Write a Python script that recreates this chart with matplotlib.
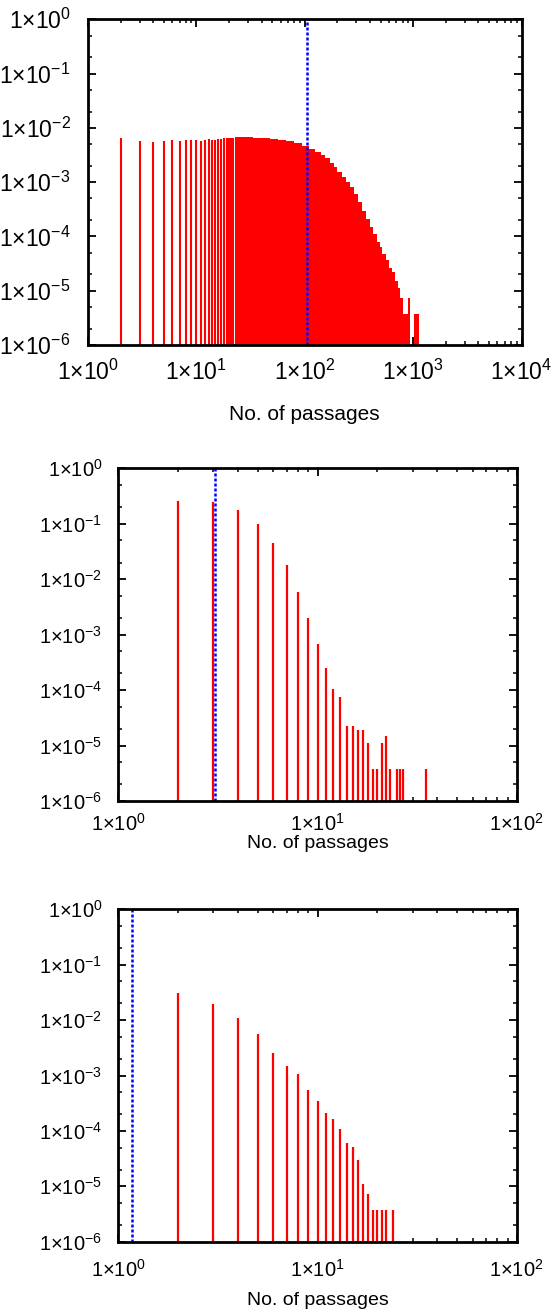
import numpy as np
import matplotlib
matplotlib.use("Agg")
import matplotlib.pyplot as plt
from matplotlib.ticker import LogLocator, FuncFormatter, NullFormatter

plt.rcParams['font.family'] = ['Liberation Sans', 'DejaVu Sans']
plt.rcParams['mathtext.fontset'] = 'custom'
plt.rcParams['mathtext.rm'] = 'Liberation Sans'
plt.rcParams['mathtext.it'] = 'Liberation Sans:italic'
plt.rcParams['mathtext.bf'] = 'Liberation Sans:bold'

# ---------------- data ----------------
# Panel 1 (top): individually resolved impulses
p1_n = [1, 2, 3, 4, 5, 6, 7, 8, 9, 10, 11, 12, 13, 14, 15, 16, 17, 18, 19, 20, 21, 22]
p1_p = [1.05e-2, 6.4e-3, 5.66e-3, 5.57e-3, 5.66e-3, 6.07e-3, 5.82e-3, 5.9e-3, 5.9e-3, 5.9e-3,
        5.74e-3, 6.07e-3, 6.2e-3, 6.07e-3, 6.0e-3, 6.2e-3, 6.3e-3, 6.5e-3, 6.4e-3,
        6.5e-3, 6.5e-3, 6.6e-3]
# Panel 1 dense region (impulses merge): envelope read per x-range
p1_edges = [22.5, 27, 33, 40, 48, 57, 67, 80, 95, 110, 125, 140, 155, 170, 185, 200,
            220, 240, 260, 285, 310, 340, 370, 400, 430, 460, 490, 520, 560, 600, 640,
            680, 720, 760, 800, 850, 900, 945, 1012, 1130]
p1_env = [6.7e-3, 6.7e-3, 6.6e-3, 6.4e-3, 6.2e-3, 6.0e-3, 5.7e-3, 5.2e-3, 4.6e-3, 4.0e-3,
          3.6e-3, 3.1e-3, 2.8e-3, 2.3e-3, 1.9e-3, 1.55e-3, 1.25e-3, 1.02e-3, 8.0e-4, 6.0e-4,
          4.3e-4, 3.0e-4, 2.1e-4, 1.5e-4, 1.1e-4, 8.0e-5, 6.3e-5, 4.8e-5, 3.7e-5, 2.6e-5,
          2.2e-5, 1.5e-5, 1.1e-5, 7.4e-6, 3.7e-6, 3.7e-6, 7.4e-6, 0.0, 3.7e-6]
p1_mark = 104.0

# Panel 2 (middle)
p2_n = [1, 2, 3, 4, 5, 6, 7, 8, 9, 10, 11, 12, 13, 14, 15, 16, 17, 18, 19, 20, 21, 22, 23,
        25, 26, 27, 35]
p2_p = [0.22, 0.26, 0.247, 0.175, 0.098, 0.045, 0.0178, 5.96e-3, 1.97e-3, 6.8e-4, 2.5e-4,
        1.03e-4, 7.5e-5, 2.25e-5, 2.25e-5, 1.9e-5, 1.9e-5, 1.13e-5, 3.7e-6, 3.7e-6,
        1.13e-5, 1.5e-5, 3.7e-6, 3.7e-6, 3.7e-6, 3.7e-6, 3.7e-6]
p2_mark = 3.05

# Panel 3 (bottom)
p3_n = [1, 2, 3, 4, 5, 6, 7, 8, 9, 10, 11, 12, 13, 14, 15, 16, 17, 18, 19, 20, 21, 22, 24]
p3_p = [0.95, 0.0305, 0.0193, 0.011, 5.5e-3, 2.6e-3, 1.47e-3, 1.06e-3, 5.4e-4, 3.4e-4,
        2.1e-4, 1.66e-4, 1.1e-4, 6.0e-5, 5.2e-5, 2.94e-5, 1.1e-5, 7.3e-6, 3.7e-6, 3.7e-6,
        3.7e-6, 3.7e-6, 3.7e-6]
p3_mark = 1.176

xlabel_text = "No. of passages"

# ---------------- styling helpers ----------------
RED = (1.0, 0.0, 0.0)
BLUE = (0.0, 0.0, 1.0)
DASH = (0, (1.2, 0.8))

def fmt(v, pos):
    k = int(round(np.log10(v)))
    return "1\u00d710$^{%d}$" % k


def style(ax, xmax, fs, ypad, xpad):
    ax.set_xscale('log')
    ax.set_yscale('log')
    ax.set_xlim(1, xmax)
    ax.set_ylim(1e-6, 1)
    ax.xaxis.set_major_locator(LogLocator(base=10, numticks=20))
    ax.xaxis.set_minor_locator(LogLocator(base=10, subs=np.arange(2, 10), numticks=20))
    ax.yaxis.set_major_locator(LogLocator(base=10, numticks=20))
    ax.yaxis.set_minor_locator(LogLocator(base=10, subs=[2, 5], numticks=20))
    ax.xaxis.set_major_formatter(FuncFormatter(fmt))
    ax.yaxis.set_major_formatter(FuncFormatter(fmt))
    ax.xaxis.set_minor_formatter(NullFormatter())
    ax.yaxis.set_minor_formatter(NullFormatter())
    ax.tick_params(which='both', direction='in', top=True, right=True, labelsize=fs)
    ax.tick_params(which='major', length=5.5, width=1.3)
    ax.tick_params(which='minor', length=2.8, width=1.1)
    ax.tick_params(axis='y', which='major', pad=ypad)
    ax.tick_params(axis='x', which='major', pad=xpad)
    for s in ax.spines.values():
        s.set_linewidth(2.0)
        s.set_zorder(5)


fig = plt.figure(figsize=(5.54, 13.15), dpi=100)

W, H = 554.0, 1315.0

def add_axes(l, r, t, b):
    return fig.add_axes([l / W, 1 - b / H, (r - l) / W, (b - t) / H])

# top panel
ax1 = add_axes(88, 521.5, 19.3, 345)
style(ax1, 1e4, 16.5, 12.5, 10.5)
ax1.vlines(p1_n, 1e-7, p1_p, colors=[RED], linewidth=1.5, capstyle='butt', zorder=2)
ax1.bar(p1_edges[:-1], p1_env, width=np.diff(p1_edges), align='edge',
        color=RED, linewidth=0, zorder=2)
ax1.axvline(p1_mark, color=BLUE, linewidth=1.8, linestyle=DASH, zorder=3)
ax1.set_xlabel(xlabel_text, fontsize=15)
ax1.xaxis.set_label_coords(0.5, -0.185)

# middle panel
ax2 = add_axes(118.3, 516.7, 468.3, 801)
style(ax2, 1e2, 14.5, 11.5, 8.5)
ax2.vlines(p2_n, 1e-7, p2_p, colors=[RED], linewidth=1.6, capstyle='butt', zorder=2)
ax2.axvline(p2_mark, color=BLUE, linewidth=1.8, linestyle=DASH, zorder=3)
ax2.set_xlabel(xlabel_text, fontsize=14)
ax2.xaxis.set_label_coords(0.5, -0.102)

# bottom panel
ax3 = add_axes(118.3, 516.7, 909.3, 1241.7)
style(ax3, 1e2, 14.5, 11.5, 12.5)
ax3.vlines(p3_n, 1e-7, p3_p, colors=[RED], linewidth=1.6, capstyle='butt', zorder=2)
ax3.axvline(p3_mark, color=BLUE, linewidth=1.8, linestyle=DASH, zorder=3)
ax3.set_xlabel(xlabel_text, fontsize=14)
ax3.xaxis.set_label_coords(0.5, -0.15)

fig.savefig("out.png", dpi=100)
